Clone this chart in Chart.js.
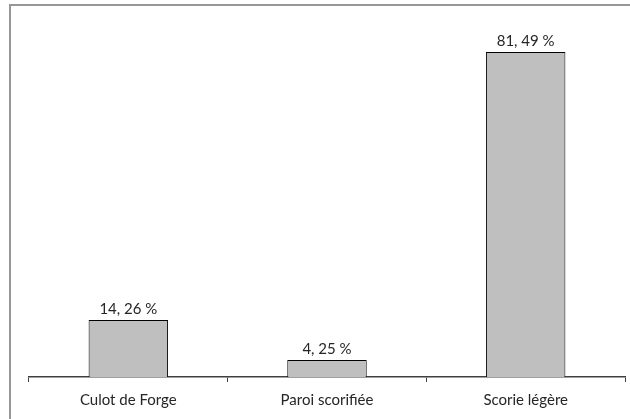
<!DOCTYPE html>
<html lang="fr">
<head>
<meta charset="UTF-8">
<title>Répartition des déchets</title>
<script src="https://cdn.jsdelivr.net/npm/chart.js"></script>
<style>
  html, body { margin: 0; padding: 0; background: #fff; }
  canvas { display: block; }
</style>
</head>
<body>
<canvas id="chart" width="630" height="419"></canvas>
<script>
const categories = ["Culot de Forge", "Paroi scorifiée", "Scorie légère"];
const percentages = [14.26, 4.25, 81.49];

const FONT = "Lato, 'Open Sans', sans-serif";

// left and top frame lines around the plot
const framePlugin = {
  id: "frame",
  beforeDraw(chart) {
    const ctx = chart.ctx;
    ctx.save();
    ctx.strokeStyle = "#979797";
    ctx.lineWidth = 2;
    ctx.beginPath();
    ctx.moveTo(10, chart.height);
    ctx.lineTo(10, 5);
    ctx.lineTo(chart.width, 5);
    ctx.stroke();
    ctx.restore();
  }
};

// value labels above each bar, French decimal style "14, 26 %"
const valueLabels = {
  id: "valueLabels",
  afterDatasetsDraw(chart) {
    const ctx = chart.ctx;
    const meta = chart.getDatasetMeta(0);
    ctx.save();
    ctx.font = "15px " + FONT;
    ctx.fillStyle = "#262626";
    ctx.textAlign = "center";
    ctx.textBaseline = "alphabetic";
    meta.data.forEach((bar, i) => {
      const txt = percentages[i].toFixed(2).replace(".", ", ") + " %";
      ctx.fillText(txt, bar.x, bar.y - 6);
    });
    ctx.restore();
  }
};

new Chart(document.getElementById("chart"), {
  type: "bar",
  data: {
    labels: categories,
    datasets: [{
      data: percentages,
      backgroundColor: "#bfbfbf",
      borderColor: "#000000",
      borderWidth: 1,
      categoryPercentage: 1,
      barPercentage: 0.4
    }]
  },
  options: {
    responsive: false,
    animation: false,
    layout: { padding: { left: 29, right: 5, top: 18, bottom: 0 } },
    plugins: { legend: { display: false }, tooltip: { enabled: false } },
    scales: {
      x: {
        afterFit(scale) { scale.height = 42; },
        grid: {
          offset: true,
          drawOnChartArea: false,
          drawTicks: true,
          tickLength: 5,
          color: "#404040"
        },
        border: { color: "#404040", width: 1.5 },
        ticks: {
          padding: 9,
          color: "#262626",
          font: { family: FONT, size: 15 }
        }
      },
      y: {
        display: false,
        min: 0,
        max: 90
      }
    }
  },
  plugins: [framePlugin, valueLabels]
});
</script>
</body>
</html>
